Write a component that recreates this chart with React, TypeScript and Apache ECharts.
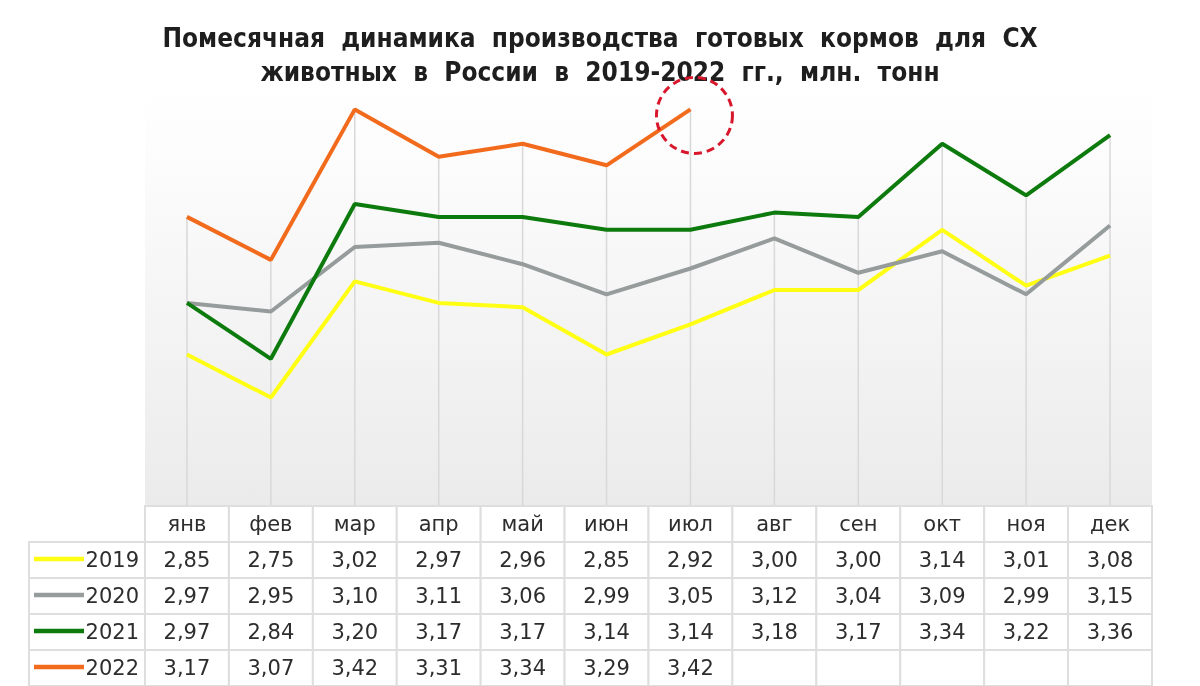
import React, { useEffect, useRef } from "react";
import * as echarts from "echarts";

const months = ["янв", "фев", "мар", "апр", "май", "июн", "июл", "авг", "сен", "окт", "ноя", "дек"];
const years = ["2019", "2020", "2021", "2022"];
const v2019 = [2.85, 2.75, 3.02, 2.97, 2.96, 2.85, 2.92, 3.0, 3.0, 3.14, 3.01, 3.08];
const v2020 = [2.97, 2.95, 3.1, 3.11, 3.06, 2.99, 3.05, 3.12, 3.04, 3.09, 2.99, 3.15];
const v2021 = [2.97, 2.84, 3.2, 3.17, 3.17, 3.14, 3.14, 3.18, 3.17, 3.34, 3.22, 3.36];
const v2022: (number | null)[] = [3.17, 3.07, 3.42, 3.31, 3.34, 3.29, 3.42, null, null, null, null, null];
const colors = ["#ffff14", "#969b9b", "#0c7a0c", "#f26b1d"];
const Y_MIN = 2.5;
const Y_MAX = 3.5;
const TITLE = "Помесячная  динамика  производства  готовых  кормов  для  СХ\nживотных  в  России  в  2019-2022  гг.,  млн.  тонн";

const GRID_LEFT = 145;
const GRID_RIGHT = 1152;
const GRID_TOP = 75;
const GRID_BOTTOM = 505;
const TABLE_TOP = 506;
const ROW_H = 36;
const LEG_LEFT = 29;
const FONT = "'DejaVu Sans', sans-serif";

const fmt = (v: number | null) => (v == null ? "" : v.toFixed(2).replace(".", ","));

export default function App() {
  const ref = useRef<HTMLDivElement>(null);
  useEffect(() => {
    const chart = echarts.init(ref.current!, null, { renderer: "svg" });
    const all = [v2019, v2020, v2021, v2022];
    const maxPer = months.map((_, i) => {
      const vals = all.map((a) => a[i]).filter((x) => x != null) as number[];
      return [i, Math.max(...vals)];
    });
    const cellW = (GRID_RIGHT - GRID_LEFT) / months.length;
    const graphics: any[] = [];
    const border = "#dedede";
    const txt = "#2d2d2d";
    months.forEach((m, i) => {
      const x = GRID_LEFT + i * cellW;
      graphics.push({
        type: "rect",
        shape: { x, y: TABLE_TOP, width: cellW, height: ROW_H },
        style: { fill: "#fff", stroke: border, lineWidth: 2 },
        z: 10,
      });
      graphics.push({
        type: "text",
        x: x + cellW / 2,
        y: TABLE_TOP + ROW_H / 2,
        style: { text: m, fill: txt, font: `21px ${FONT}`, align: "center", verticalAlign: "middle" },
        z: 11,
      });
    });
    all.forEach((arr, r) => {
      const y = TABLE_TOP + ROW_H * (r + 1);
      graphics.push({
        type: "rect",
        shape: { x: LEG_LEFT, y, width: GRID_LEFT - LEG_LEFT, height: ROW_H },
        style: { fill: "#fff", stroke: border, lineWidth: 2 },
        z: 10,
      });
      graphics.push({
        type: "line",
        shape: { x1: LEG_LEFT + 5, y1: y + ROW_H / 2 - 1, x2: LEG_LEFT + 55, y2: y + ROW_H / 2 - 1 },
        style: { stroke: colors[r], lineWidth: 4.5 },
        z: 11,
      });
      graphics.push({
        type: "text",
        x: GRID_LEFT - 6,
        y: y + ROW_H / 2,
        style: { text: years[r], fill: txt, font: `21px ${FONT}`, align: "right", verticalAlign: "middle" },
        z: 11,
      });
      arr.forEach((v, i) => {
        const x = GRID_LEFT + i * cellW;
        graphics.push({
          type: "rect",
          shape: { x, y, width: cellW, height: ROW_H },
          style: { fill: "#fff", stroke: border, lineWidth: 2 },
          z: 10,
        });
        if (v != null)
          graphics.push({
            type: "text",
            x: x + cellW / 2,
            y: y + ROW_H / 2,
            style: { text: fmt(v), fill: txt, font: `21px ${FONT}`, align: "center", verticalAlign: "middle" },
            z: 11,
          });
      });
    });

    chart.setOption({
      animation: false,
      title: {
        text: TITLE,
        left: "center",
        top: 16,
        textStyle: {
          fontFamily: "'DejaVu Sans Condensed', sans-serif",
          fontWeight: "bold",
          fontSize: 26,
          lineHeight: 34,
          color: "#1e1e1e",
        },
      },
      grid: {
        left: GRID_LEFT,
        right: 1200 - GRID_RIGHT,
        top: GRID_TOP,
        bottom: 686 - GRID_BOTTOM,
        show: true,
        borderWidth: 0,
        backgroundColor: {
          type: "linear",
          x: 0,
          y: 0,
          x2: 0,
          y2: 1,
          colorStops: [
            { offset: 0, color: "#ffffff" },
            { offset: 0.15, color: "#fdfdfd" },
            { offset: 1, color: "#ebebeb" },
          ],
        },
      },
      xAxis: {
        type: "category",
        data: months,
        boundaryGap: true,
        axisLine: { show: false },
        axisTick: { show: false },
        axisLabel: { show: false },
      },
      yAxis: {
        type: "value",
        min: Y_MIN,
        max: Y_MAX,
        show: false,
        splitLine: { show: false },
      },
      series: [
        {
          type: "custom",
          z: 1,
          data: maxPer,
          renderItem: (params: any, api: any) => {
            const top = api.coord([api.value(0), api.value(1)]);
            const bot = api.coord([api.value(0), Y_MIN]);
            return {
              type: "line",
              shape: { x1: top[0], y1: top[1], x2: bot[0], y2: bot[1] },
              style: { stroke: "#d8d8d8", lineWidth: 1.5 },
            };
          },
        },
        ...all.map((arr, r) => ({
          type: "line",
          name: years[r],
          data: arr,
          z: 3 + r,
          symbol: "none",
          lineStyle: { color: colors[r], width: 4 },
          itemStyle: { color: colors[r] },
        })),
      ],
      graphic: graphics,
    });

    const p = chart.convertToPixel({ gridIndex: 0 }, [6, v2022[6] as number]);
    chart.setOption({
      graphic: [
        ...graphics,
        {
          type: "circle",
          shape: { cx: p[0] + 4, cy: p[1] + 6, r: 38 },
          style: { fill: "none", stroke: "#d8172c", lineWidth: 3, lineDash: [8, 5] },
          z: 20,
        },
      ],
    });
    return () => chart.dispose();
  }, []);
  return <div ref={ref} style={{ position: "fixed", left: 0, top: 0, width: 1200, height: 686 }} />;
}
